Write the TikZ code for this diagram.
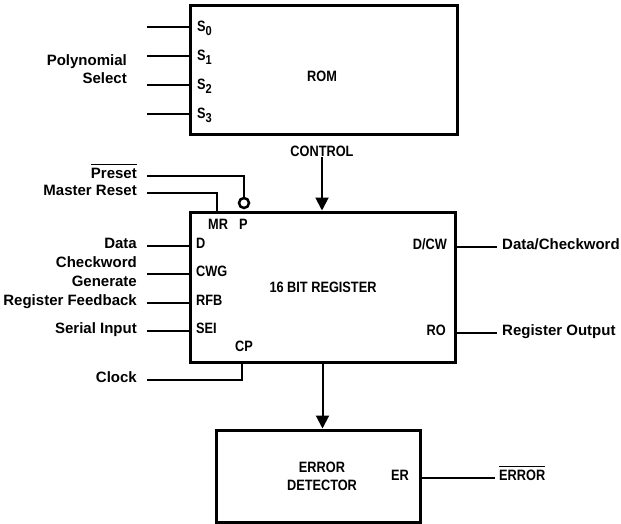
\documentclass[tikz,border=0pt]{standalone}
\usepackage{fontspec}
\setmainfont{Liberation Sans}
\newfontfamily\narrowfont[FakeStretch=0.85]{Liberation Sans}
\usetikzlibrary{arrows.meta}
\newcommand{\myovl}[1]{\setbox0\hbox{#1}\rlap{\rule[\dimexpr\ht0+3pt\relax]{\wd0}{1.3pt}}\box0}
\newcommand{\subs}[1]{\raisebox{-4pt}{\fontsize{13}{13}\selectfont #1}}
\begin{document}
\begin{tikzpicture}[x=1pt,y=-1pt,
  box/.style={draw,line width=3pt,inner sep=0pt},
  wire/.style={line width=2pt},
  lbl/.style={inner sep=0pt,font=\fontsize{15}{17}\selectfont\bfseries},
  pin/.style={inner sep=0pt,font=\narrowfont\fontsize{15}{17}\selectfont\bfseries},
  arr/.style={wire,-{Triangle[length=13pt,width=13pt]}}]
\useasboundingbox (0,0) rectangle (621,524);

% ROM
\node[box,minimum width=267pt,minimum height=129pt] (rom) at (323.5,70.5) {};
\node[pin] (romt) at (322,76) {ROM};
\node[pin] (ctrl) at (322,151) {CONTROL};
\foreach \i/\y in {0/27,1/56,2/85,3/114} {
  \coordinate (s\i) at (147,\y);
  \draw[wire] (s\i) -- (s\i -| rom.west);
  \node[pin,anchor=mid west] (sl\i) at (197,\y+2) {S\subs{\i}};
}
\node[lbl,anchor=mid east] (poly1) at (127,63) {Polynomial};
\node[lbl,anchor=mid east] (poly2) at (127,81) {Select};

% register
\node[box,minimum width=265pt,minimum height=150pt] (reg) at (322.5,287) {};
\node[pin] (regt) at (323,287) {16 BIT REGISTER};
\draw[arr] (ctrl.south) -- (ctrl.south |- reg.north);

% preset and master reset
\node[draw,circle,line width=2.5pt,minimum size=10pt,inner sep=0pt] (bub) at (244,203) {};
\coordinate (pre) at (147,176);
\node[lbl,anchor=mid east] (pret) at (137,176) {\myovl{Preset}};
\draw[wire] (pre) -| (bub.north);
\coordinate (mr) at (147,193);
\node[lbl,anchor=mid east] (mrt) at (137,193) {Master Reset};
\draw[wire] (mr) -| ([xshift=28pt]reg.north west);
\node[pin,anchor=mid west] (mrp) at (208,227) {MR};
\node[pin,anchor=mid west] (pp) at (239,227) {P};

% left inputs
\coordinate (ind) at (147,246);
\node[lbl,anchor=mid east] (indt) at (137,246) {Data};
\draw[wire] (ind) -- (ind -| reg.west);
\node[pin,anchor=mid west] (dp) at (196,246) {D};

\coordinate (cwg) at (147,274);
\node[lbl,anchor=mid east] (cwgt1) at (137,265) {Checkword};
\node[lbl,anchor=mid east] (cwgt2) at (137,284) {Generate};
\draw[wire] (cwg) -- (cwg -| reg.west);
\node[pin,anchor=mid west] (cwgp) at (196,274) {CWG};

\coordinate (rfb) at (147,303);
\node[lbl,anchor=mid east] (rfbt) at (137,303) {Register Feedback};
\draw[wire] (rfb) -- (rfb -| reg.west);
\node[pin,anchor=mid west] (rfbp) at (196,303) {RFB};

\coordinate (sei) at (147,331);
\node[lbl,anchor=mid east] (seit) at (137,331) {Serial Input};
\draw[wire] (sei) -- (sei -| reg.west);
\node[pin,anchor=mid west] (seip) at (196,331) {SEI};

\coordinate (clk) at (147,380);
\node[lbl,anchor=mid east] (clkt) at (137,380) {Clock};
\draw[wire] (clk) -| ([xshift=53pt]reg.south west);
\node[pin,anchor=mid west] (cpp) at (235,349) {CP};

% right outputs
\coordinate (dcw) at (497,247);
\draw[wire] (dcw -| reg.east) -- (dcw);
\node[pin,anchor=mid east] (dcwp) at (447,247) {D/CW};
\node[lbl,anchor=mid west] (dcwt) at (502,247) {Data/Checkword};

\coordinate (ro) at (497,333);
\draw[wire] (ro -| reg.east) -- (ro);
\node[pin,anchor=mid east] (rop) at (446,333) {RO};
\node[lbl,anchor=mid west] (rot) at (502,333) {Register Output};

% error detector
\node[box,minimum width=204pt,minimum height=92pt] (err) at (318,476) {};
\node[pin] (errt1) at (322,467) {ERROR};
\node[pin] (errt2) at (322,485) {DETECTOR};
\node[pin,anchor=mid east] (erp) at (409,478) {ER};
\draw[arr] (reg.south) -- (reg.south |- err.north);
\coordinate (ero) at (495,478);
\draw[wire] (ero -| err.east) -- (ero);
\node[pin,anchor=mid west] (erot) at (499,478) {\myovl{ERROR}};
\end{tikzpicture}
\end{document}
